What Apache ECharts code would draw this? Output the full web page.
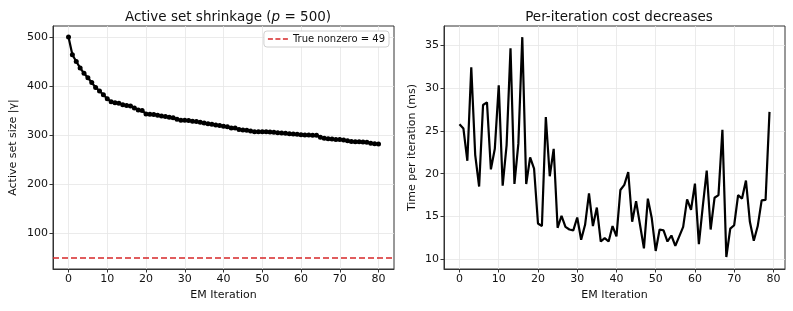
<!DOCTYPE html>
<html><head><meta charset="utf-8">
<script src="https://cdn.jsdelivr.net/npm/echarts@6/dist/echarts.min.js"></script>
<style>html,body{margin:0;padding:0;background:#fff}#c{width:793px;height:311px}</style>
</head><body><div id="c"></div>
<script>
const activeSetSize = [500,464,450,437,426,417,407,397,390,382,374,368,366,365,362,360,359,355,351,350,343,342.5,342,340.5,339,338,336.5,335,332,330,330,329.6,328,327.5,326.3,324.7,323,322,320.6,319.2,317.8,317,314.3,314.3,311,310,309.5,308,306.8,306.8,306.8,306.8,306,305.5,304.8,304,303.4,302.7,302,301.4,300.7,300,300,299.3,299.3,295.2,293.2,292.5,291.8,291,291,289.8,288.4,287,286.4,286.4,285.7,285,283,282.3,281.6];
const timePerIter = [25.75,25.25,21.5,32.4,22.2,18.5,28.0,28.3,20.5,22.9,30.3,18.6,23.3,34.6,18.8,23.5,35.9,18.8,21.9,20.6,14.2,13.9,26.6,19.7,22.9,13.7,15.1,13.8,13.5,13.4,14.9,12.3,14.05,17.7,13.9,16.06,12.1,12.5,12.1,13.9,12.7,18.1,18.7,20.2,14.4,16.8,14.05,11.3,17.1,14.8,11.0,13.5,13.4,12.1,12.8,11.6,12.7,13.8,17.0,15.8,18.85,11.8,16.2,20.35,13.5,17.2,17.5,25.1,10.3,13.6,14.0,17.5,17.1,19.2,14.4,12.2,13.9,16.9,16.95,27.2];
const trueNonzero = 49;
const xTicksLeft = [0,10,20,30,40,50,60,70,80];
const yTicksLeft = [100,200,300,400,500];
const xTicksRight = [0,10,20,30,40,50,60,70,80];
const yTicksRight = [10,15,20,25,30,35];

const FONT = 'DejaVu Sans';
const TXT = '#111';
const chart = echarts.init(document.getElementById('c'), null, {renderer:'canvas'});
const gridLine = {show:true, lineStyle:{color:'#e6e6e6', width:0.8}};
function xAxis(gi, min, max, ticks){
  return {type:'value', gridIndex:gi, min:min, max:max,
    name:'EM Iteration', nameLocation:'middle', nameGap:21,
    nameTextStyle:{fontFamily:FONT, fontSize:11, color:TXT},
    axisLine:{show:true, onZero:false, lineStyle:{color:'#333', width:1}},
    axisTick:{show:true, length:3.5, inside:false, customValues:ticks, lineStyle:{color:'#333'}},
    axisLabel:{customValues:ticks, fontFamily:FONT, fontSize:11, color:TXT, margin:5},
    splitLine:gridLine};
}
function yAxis(gi, min, max, ticks, name, gap){
  return {type:'value', gridIndex:gi, min:min, max:max,
    name:name, nameLocation:'middle', nameGap:gap,
    nameTextStyle:{fontFamily:FONT, fontSize:11, color:TXT},
    axisLine:{show:true, onZero:false, lineStyle:{color:'#333', width:1}},
    axisTick:{show:true, length:3.5, customValues:ticks, lineStyle:{color:'#333'}},
    axisLabel:{customValues:ticks, fontFamily:FONT, fontSize:11, color:TXT, margin:5},
    splitLine:gridLine};
}
const option = {
  animation:false,
  backgroundColor:'#fff',
  title:[
    {text:'Active set shrinkage ({i|p} = 500)', left:223, top:5, textAlign:'center',
     textStyle:{fontFamily:FONT, fontSize:13.5, fontWeight:'normal', color:TXT,
       rich:{i:{fontFamily:FONT, fontStyle:'italic', fontSize:13.5, color:TXT}}}},
    {text:'Per-iteration cost decreases', left:614, top:5, textAlign:'center',
     textStyle:{fontFamily:FONT, fontSize:13.5, fontWeight:'normal', color:TXT}}
  ],
  legend:{show:true, data:[{name:'True nonzero = ' + trueNonzero,
      icon:'path://M0,0h6v2h-6zM9,0h6v2h-6zM18,0h6v2h-6z'}],
    right:404, top:31, itemWidth:20, itemHeight:2, itemGap:6,
    padding:[3,4,3,4], borderColor:'#d0d0d0', borderWidth:1, borderRadius:3,
    backgroundColor:'#fff',
    textStyle:{fontFamily:FONT, fontSize:10, color:TXT}},
  grid:[
    {left:53, top:26, width:341, height:243, show:true, borderColor:'#333', borderWidth:1, containLabel:false},
    {left:444, top:26, width:341, height:243, show:true, borderColor:'#333', borderWidth:1, containLabel:false}
  ],
  xAxis:[ xAxis(0,-4,84,xTicksLeft), xAxis(1,-3.95,82.95,xTicksRight) ],
  yAxis:[ yAxis(0,26.45,522.55,yTicksLeft,'Active set size |γ|',34),
          yAxis(1,8.9,37.2,yTicksRight,'Time per iteration (ms)',26) ],
  series:[
    {type:'line', xAxisIndex:0, yAxisIndex:0, data:activeSetSize.map((v,i)=>[i,v]),
     symbol:'circle', symbolSize:5, showSymbol:true, color:'#000',
     lineStyle:{color:'#000', width:2.2}, itemStyle:{color:'#000'}, z:3},
    {type:'line', name:'True nonzero = ' + trueNonzero, xAxisIndex:0, yAxisIndex:0, data:[],
     color:'#d62728',
     markLine:{silent:true, symbol:'none', label:{show:false},
       lineStyle:{color:'#d62728', type:[6,3], width:1.5},
       data:[{yAxis:trueNonzero}]}},
    {type:'line', xAxisIndex:1, yAxisIndex:1, data:timePerIter.map((v,i)=>[i,v]),
     symbol:'none', color:'#000', lineStyle:{color:'#000', width:2.2}}
  ]
};
chart.setOption(option);
</script></body></html>
